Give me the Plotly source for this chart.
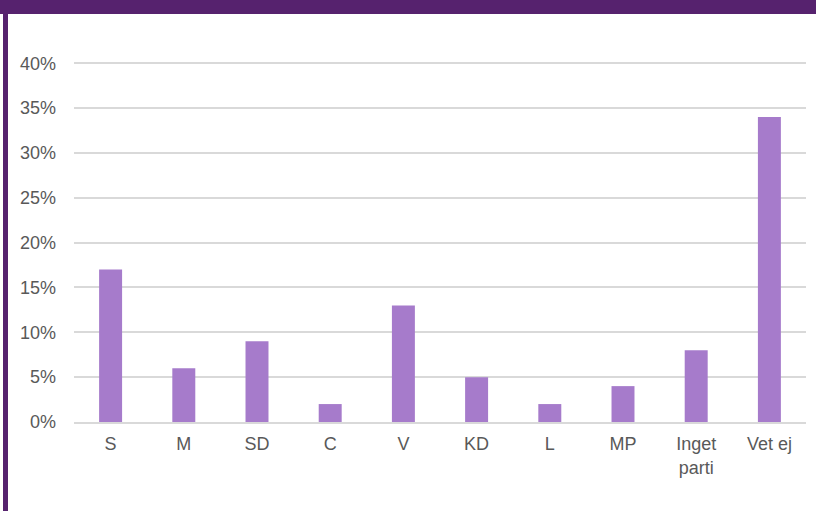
import plotly.graph_objects as go

categories = ["S", "M", "SD", "C", "V", "KD", "L", "MP", "Inget<br>parti", "Vet ej"]
values = [0.17, 0.06, 0.09, 0.02, 0.13, 0.05, 0.02, 0.04, 0.08, 0.34]
y_ticks = [0, 0.05, 0.10, 0.15, 0.20, 0.25, 0.30, 0.35, 0.40]
y_tick_labels = ["0%", "5%", "10%", "15%", "20%", "25%", "30%", "35%", "40%"]

W, H = 816, 511
L, R, T, B = 74, 10, 61, 89
pw, ph = W - L - R, H - T - B

def px_x(x):
    return (x - L) / pw

def px_y(y):
    return (H - B - y) / ph

fig = go.Figure(go.Bar(
    x=categories, y=values,
    marker=dict(color="#A67BCB", line=dict(width=0)),
    hoverinfo="skip",
))

purple = "#56226E"
shapes = [
    dict(type="rect", xref="paper", yref="paper",
         x0=px_x(0), x1=px_x(W), y0=px_y(14), y1=px_y(0),
         fillcolor=purple, line=dict(width=0), layer="above"),
    dict(type="rect", xref="paper", yref="paper",
         x0=px_x(3), x1=px_x(8), y0=px_y(H), y1=px_y(14),
         fillcolor=purple, line=dict(width=0), layer="above"),
]

fig.update_layout(
    width=W, height=H,
    margin=dict(l=L, r=R, t=T, b=B, pad=0),
    paper_bgcolor="white", plot_bgcolor="white",
    bargap=0.686,
    showlegend=False,
    font=dict(family="Liberation Sans, Arial, sans-serif", size=18, color="#595959"),
    shapes=shapes,
    xaxis=dict(showgrid=False, showline=True, linecolor="#D9D9D9", linewidth=1.5,
               ticks="", tickfont=dict(size=18, color="#595959"),
               ticklabelstandoff=5, fixedrange=True),
    yaxis=dict(range=[0, 0.4025], tickvals=y_ticks, ticktext=y_tick_labels,
               showgrid=True, gridcolor="#D9D9D9", gridwidth=1.5,
               zeroline=False, showline=False, ticks="",
               tickfont=dict(size=18, color="#595959"),
               ticklabelstandoff=17, fixedrange=True),
)

fig.write_html("out.html", config=dict(displayModeBar=False),
               post_script="document.body.style.margin='0';document.body.style.overflow='hidden';")
